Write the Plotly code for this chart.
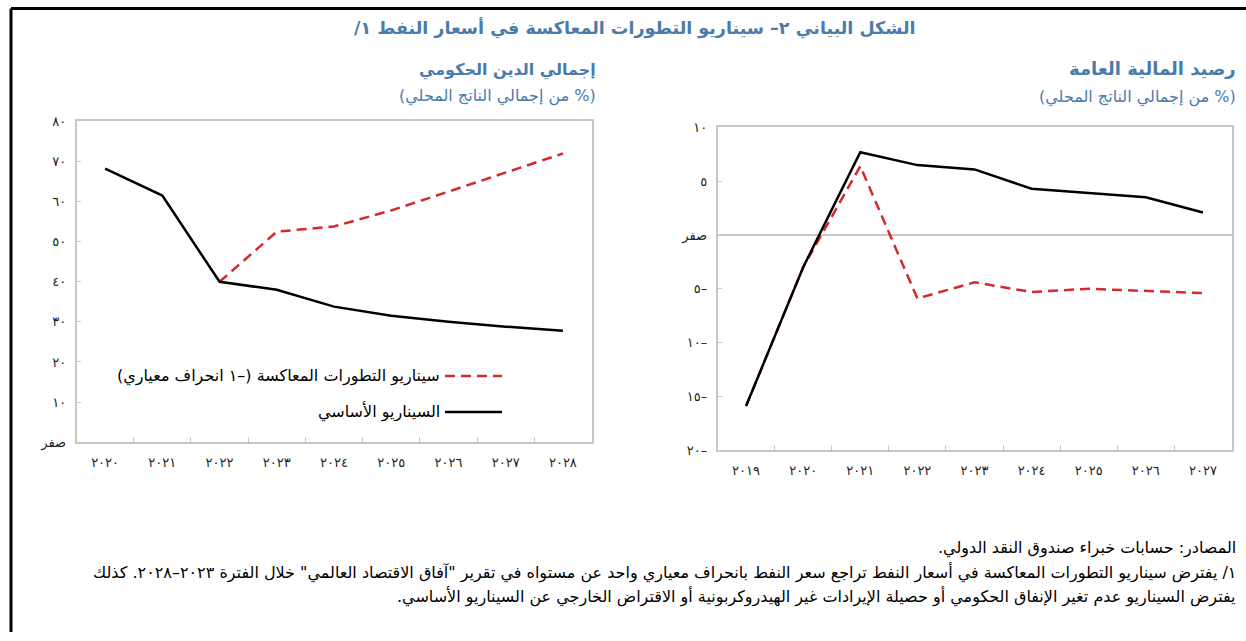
import plotly.graph_objects as go

RLM = "\u200F"

# ---- data ----
debt_years = ["2020", "2021", "2022", "2023", "2024", "2025", "2026", "2027", "2028"]
debt_year_labels = ["٢٠٢٠", "٢٠٢١", "٢٠٢٢", "٢٠٢٣", "٢٠٢٤", "٢٠٢٥", "٢٠٢٦", "٢٠٢٧", "٢٠٢٨"]
debt_baseline = [68.2, 61.5, 40.0, 38.0, 33.8, 31.5, 30.0, 28.8, 27.8]
debt_adverse = [None, None, 40.0, 52.5, 53.8, 57.8, 62.5, 67.2, 72.0]
debt_tickvals = [0, 10, 20, 30, 40, 50, 60, 70, 80]
debt_ticktext = ["صفر", "١٠", "٢٠", "٣٠", "٤٠", "٥٠", "٦٠", "٧٠", "٨٠"]

fb_years = ["2019", "2020", "2021", "2022", "2023", "2024", "2025", "2026", "2027"]
fb_year_labels = ["٢٠١٩", "٢٠٢٠", "٢٠٢١", "٢٠٢٢", "٢٠٢٣", "٢٠٢٤", "٢٠٢٥", "٢٠٢٦", "٢٠٢٧"]
fb_baseline = [-15.9, -3.0, 7.7, 6.5, 6.1, 4.3, 3.9, 3.5, 2.1]
fb_adverse = [-15.9, -3.0, 6.4, -5.9, -4.4, -5.3, -5.0, -5.2, -5.4]
fb_tickvals = [-20, -15, -10, -5, 0, 5, 10]
fb_ticktext = ["٢٠–", "١٥–", "١٠–", "٥–", "صفر", "٥", "١٠"]

title_text = "الشكل البياني ٢– سيناريو التطورات المعاكسة في أسعار النفط ١/"
left_title = "إجمالي الدين الحكومي"
right_title = "رصيد المالية العامة"
unit_text = "(% من إجمالي الناتج المحلي)"
legend_adverse = "سيناريو التطورات المعاكسة (–١ انحراف معياري)"
legend_base = "السيناريو الأساسي"
notes = [
    "المصادر: حسابات خبراء صندوق النقد الدولي.",
    "١/ يفترض سيناريو التطورات المعاكسة في أسعار النفط تراجع سعر النفط بانحراف معياري واحد عن مستواه في تقرير \"آفاق الاقتصاد العالمي\" خلال الفترة ٢٠٢٣–٢٠٢٨. كذلك",
    "يفترض السيناريو عدم تغير الإنفاق الحكومي أو حصيلة الإيرادات غير الهيدروكربونية أو الاقتراض الخارجي عن السيناريو الأساسي.",
]

W, H = 1246, 641
FONT = "DejaVu Sans"
BLUE = "#4a7bab"
RED = "#d42a2a"
AX = "#c8c8c8"


def px(x):
    return x / W


def py(y):
    yi = (y - 6.8) / 0.973
    yi = min(max(yi, 0.0), H)
    return 1 - yi / H


fig = go.Figure()

fig.add_trace(go.Scatter(x=debt_years, y=debt_adverse, mode="lines", xaxis="x", yaxis="y",
                         line=dict(color=RED, width=2.5, dash="10px,6px"), showlegend=False,
                         name=legend_adverse))
fig.add_trace(go.Scatter(x=debt_years, y=debt_baseline, mode="lines", xaxis="x", yaxis="y",
                         line=dict(color="black", width=2.5), showlegend=False,
                         name=legend_base))
fig.add_trace(go.Scatter(x=fb_years, y=fb_adverse, mode="lines", xaxis="x2", yaxis="y2",
                         line=dict(color=RED, width=2.5, dash="10px,6px"), showlegend=False,
                         name=legend_adverse))
fig.add_trace(go.Scatter(x=fb_years, y=fb_baseline, mode="lines", xaxis="x2", yaxis="y2",
                         line=dict(color="black", width=2.5), showlegend=False,
                         name=legend_base))

common_x = dict(type="category", showline=True, linecolor=AX, linewidth=1.5, mirror=True,
                ticks="inside", tickson="boundaries", ticklen=5, tickcolor=AX,
                showgrid=False, zeroline=False, tickfont=dict(family=FONT, size=13, color="#222"),
                ticklabelstandoff=8, range=[-0.5, 8.5], fixedrange=True)
common_y = dict(showline=True, linecolor=AX, linewidth=1.5, mirror=True,
                ticks="inside", ticklen=5, tickcolor=AX, showgrid=False,
                tickfont=dict(family=FONT, size=13, color="#222"),
                ticklabelstandoff=6, fixedrange=True)

fig.update_layout(
    width=W, height=H, autosize=False,
    margin=dict(l=0, r=0, t=0, b=0),
    paper_bgcolor="white", plot_bgcolor="white",
    showlegend=False,
    xaxis=dict(common_x, domain=[px(76.5), px(591.5)], anchor="y",
               tickvals=debt_years, ticktext=debt_year_labels),
    yaxis=dict(common_y, domain=[py(441), py(121)], anchor="x", range=[0, 80],
               tickvals=debt_tickvals, ticktext=debt_ticktext, zeroline=False),
    xaxis2=dict(common_x, domain=[px(717.5), px(1231.5)], anchor="y2",
                tickvals=fb_years, ticktext=fb_year_labels),
    yaxis2=dict(common_y, domain=[py(449), py(127)], anchor="x2", range=[-20, 10],
                tickvals=fb_tickvals, ticktext=fb_ticktext,
                zeroline=True, zerolinecolor=AX, zerolinewidth=1.5),
)

ann = []
ann.append(dict(text="<b>" + RLM + title_text + RLM + "</b>", x=px(635), y=py(28), xref="paper", yref="paper",
                xanchor="center", yanchor="middle", showarrow=False,
                font=dict(family=FONT, size=17.5, color=BLUE)))
for xr, t, yy, fs in [(598, left_title, 70, 16), (1238, right_title, 68, 18)]:
    ann.append(dict(text="<b>" + RLM + t + RLM + "</b>", x=px(xr), y=py(yy), xref="paper", yref="paper",
                    xanchor="right", yanchor="middle", showarrow=False,
                    font=dict(family=FONT, size=fs, color=BLUE)))
for xr, yy in [(598, 96), (1238, 97)]:
    ann.append(dict(text=RLM + unit_text + RLM, x=px(xr), y=py(yy), xref="paper", yref="paper",
                    xanchor="right", yanchor="middle", showarrow=False,
                    font=dict(family=FONT, size=16, color=BLUE)))
# legend (RTL: text left of sample)
for t, yy in [(legend_adverse, 375), (legend_base, 410)]:
    ann.append(dict(text=RLM + t + RLM, x=px(442), y=py(yy), xref="paper", yref="paper",
                    xanchor="right", yanchor="middle", showarrow=False,
                    font=dict(family=FONT, size=16, color="black")))
for t, yy in zip(notes, [547, 571, 595]):
    ann.append(dict(text=RLM + t + RLM, x=px(1238), y=py(yy), xref="paper", yref="paper",
                    xanchor="right", yanchor="middle", showarrow=False,
                    font=dict(family=FONT, size=16, color="black")))
fig.update_layout(annotations=ann)

shapes = [
    dict(type="line", xref="paper", yref="paper", x0=px(445), x1=px(502), y0=py(375), y1=py(375),
         line=dict(color=RED, width=2.5, dash="10px,6px")),
    dict(type="line", xref="paper", yref="paper", x0=px(445), x1=px(502), y0=py(411), y1=py(411),
         line=dict(color="black", width=2.5)),
    dict(type="line", xref="paper", yref="paper", x0=px(11), x1=1, y0=1 - 1.5 / H, y1=1 - 1.5 / H,
         line=dict(color="black", width=3)),
    dict(type="line", xref="paper", yref="paper", x0=px(11), x1=px(11), y0=1 - 1.5 / H, y1=0,
         line=dict(color="black", width=3)),
]
fig.update_layout(shapes=shapes)

post = (
    "var s=document.createElement('style');"
    "s.innerHTML='html,body{margin:0!important;padding:0!important;overflow:hidden!important;}';"
    "document.head.appendChild(s);"
)
fig.write_html("out.html", config={"displayModeBar": False}, post_script=post)
